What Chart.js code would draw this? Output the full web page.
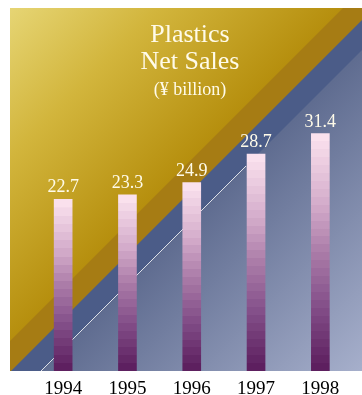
<!DOCTYPE html>
<html>
<head>
<meta charset="utf-8">
<script src="https://cdn.jsdelivr.net/npm/chart.js@4/dist/chart.umd.min.js"></script>
<style>
html,body{margin:0;padding:0;background:#fff;}
#wrap{width:362px;height:395px;position:relative;}
</style>
</head>
<body>
<div id="wrap"><canvas id="c" width="362" height="395"></canvas></div>
<script>
const categories = ['1994', '1995', '1996', '1997', '1998'];
const netSales = [22.7, 23.3, 24.9, 28.7, 31.4];
const titleLines = ['Plastics', 'Net Sales'];
const unitLabel = '(¥ billion)';

function lerp(a, b, t) { return a + (b - a) * t; }
function hexToRgb(h) { return [parseInt(h.substr(1,2),16), parseInt(h.substr(3,2),16), parseInt(h.substr(5,2),16)]; }
const barStops = [[0, '#fde5f0'], [0.3, '#d3abca'], [0.5, '#ab7ca8'], [0.72, '#84508a'], [1, '#5a1c5c']];
function barColorAt(t) {
  for (let i = 0; i < barStops.length - 1; i++) {
    const [t0, c0] = barStops[i], [t1, c1] = barStops[i + 1];
    if (t >= t0 && t <= t1) {
      const u = (t - t0) / (t1 - t0);
      const a = hexToRgb(c0), b = hexToRgb(c1);
      return 'rgb(' + Math.round(lerp(a[0], b[0], u)) + ',' + Math.round(lerp(a[1], b[1], u)) + ',' + Math.round(lerp(a[2], b[2], u)) + ')';
    }
  }
  return barStops[barStops.length - 1][1];
}

function barFill(ctx) {
  const chart = ctx.chart;
  if (!chart.chartArea) return '#a07';
  const y = chart.scales.y;
  const v = ctx.raw;
  const top = y.getPixelForValue(v), bottom = y.getPixelForValue(0);
  const g = chart.ctx.createLinearGradient(0, top, 0, bottom);
  const n = Math.max(4, Math.round((bottom - top) / 8));
  for (let i = 0; i < n; i++) {
    const c = barColorAt((i + 0.5) / n);
    g.addColorStop(i / n, c);
    g.addColorStop(Math.min(1, (i + 1) / n - 0.0001), c);
  }
  return g;
}

const bgPlugin = {
  id: 'bg',
  beforeDraw(chart) {
    const c = chart.ctx;
    const L = 10, T = 8, R = 362, B = 371;
    c.save();
    c.beginPath(); c.rect(L, T, R - L, B - T); c.clip();
    // lower-right light region
    let g = c.createLinearGradient(206, 206, 366, 366);
    g.addColorStop(0, '#5f6c90'); g.addColorStop(1, '#a6afcb');
    c.fillStyle = g; c.fillRect(L, T, R - L, B - T);
    function tri(s, fill) {
      c.beginPath(); c.moveTo(L, T); c.lineTo(s - T, T); c.lineTo(L, s - L); c.closePath();
      c.fillStyle = fill; c.fill();
    }
    // blue band
    tri(412, '#4b5c88');
    // dark gold band
    tri(382, '#a67c14');
    // gold region
    g = c.createLinearGradient(9, 9, 175, 175);
    g.addColorStop(0, '#e6d574'); g.addColorStop(0.45, '#d2b53c'); g.addColorStop(1, '#b68f0e');
    tri(351, g);
    // thin white line
    c.beginPath(); c.moveTo(41, 371); c.lineTo(246, 166);
    c.strokeStyle = 'rgba(255,255,255,0.8)'; c.lineWidth = 1; c.stroke();
    c.restore();
  },
  afterDatasetsDraw(chart) {
    const c = chart.ctx;
    c.save();
    c.fillStyle = '#fffbe9';
    c.textAlign = 'center';
    c.textBaseline = 'alphabetic';
    c.font = '26px "Liberation Serif", serif';
    c.fillText(titleLines[0], 190, 42);
    c.fillText(titleLines[1], 190, 69);
    c.font = '18px "Liberation Serif", serif';
    c.fillText(unitLabel, 190, 95);
    const meta = chart.getDatasetMeta(0);
    c.font = '18px "Liberation Serif", serif';
    meta.data.forEach((bar, i) => {
      c.fillText(netSales[i].toFixed(1), bar.x, bar.y - 7);
    });
    c.restore();
  }
};

new Chart(document.getElementById('c'), {
  type: 'bar',
  data: {
    labels: categories,
    datasets: [{
      data: netSales,
      backgroundColor: barFill,
      borderWidth: 0,
      barThickness: 18
    }]
  },
  options: {
    responsive: false,
    animation: false,
    layout: { padding: { left: 31, right: 9.5, top: 8, bottom: 0 } },
    plugins: { legend: { display: false }, tooltip: { enabled: false }, title: { display: false } },
    scales: {
      x: {
        grid: { display: false, drawTicks: false },
        border: { display: false },
        ticks: { color: '#000', font: { family: '"Liberation Serif", serif', size: 19 }, padding: 7, maxRotation: 0 },
        afterFit(s) { s.height = 24; }
      },
      y: { display: false, min: 0, max: 48 }
    }
  },
  plugins: [bgPlugin]
});
</script>
</body>
</html>
